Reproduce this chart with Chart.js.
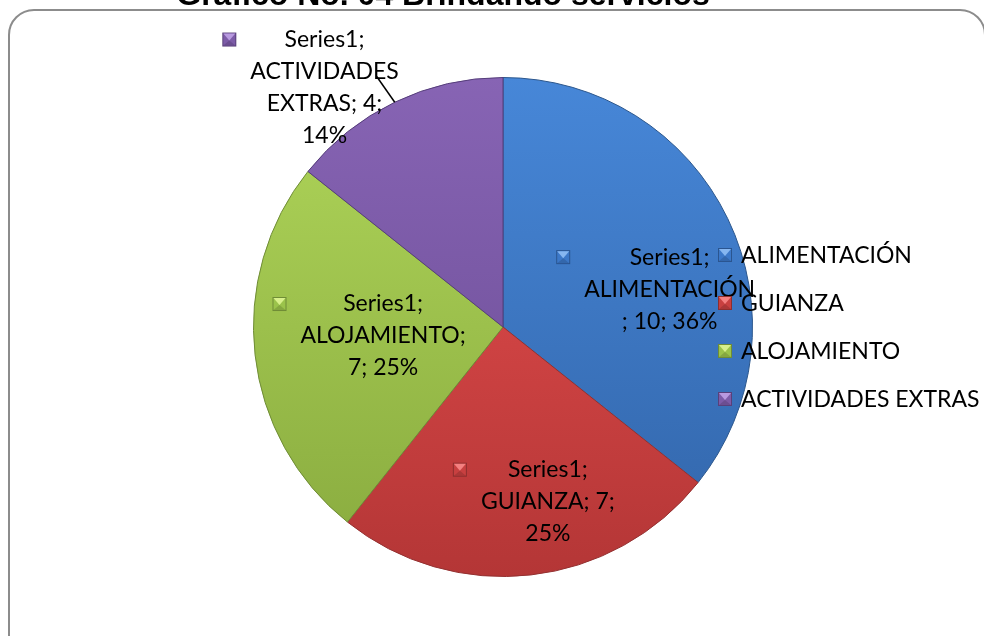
<!DOCTYPE html>
<html><head><meta charset="utf-8">
<script src="https://cdn.jsdelivr.net/npm/chart.js@4.4.1/dist/chart.umd.min.js"></script>
<style>
html,body{margin:0;padding:0;background:#fff;overflow:hidden}
#wrap{position:relative;width:984px;height:636px;overflow:hidden}
#frame{position:absolute;left:8px;top:9px;width:978px;height:700px;border:2px solid #8c8c8c;border-radius:26px;box-sizing:border-box}
canvas{position:absolute;left:0;top:0}
</style></head><body>
<div id="wrap"><div id="frame"></div><canvas id="c" width="984" height="636"></canvas></div>
<script>
const titleText = 'Gráfico No. 04 Brindando servicios';
const seriesName = 'Series1';
const categories = ['ALIMENTACIÓN', 'GUIANZA', 'ALOJAMIENTO', 'ACTIVIDADES EXTRAS'];
const values = [10, 7, 7, 4];

const total = values.reduce((a, b) => a + b, 0);
const pct = values.map(v => Math.round(v / total * 100) + '%');
// wrapped data-label lines, as in the reference
const labelLines = [
  [seriesName + ';', categories[0], '; ' + values[0] + '; ' + pct[0]],
  [seriesName + ';', categories[1] + '; ' + values[1] + ';', pct[1]],
  [seriesName + ';', categories[2] + ';', values[2] + '; ' + pct[2]],
  [seriesName + ';', categories[3].split(' ')[0], categories[3].split(' ')[1] + '; ' + values[3] + ';', pct[3]]
];

const palette = [
  {top:'#4787d8', bottom:'#3164a8', base:'#3c78c8', light:'#86b6f0', dark:'#2a5590', line:'#2b568c'},
  {top:'#ea5050', bottom:'#b43636', base:'#c84040', light:'#f48080', dark:'#8e2e2e', line:'#933030'},
  {top:'#b0d65a', bottom:'#88aa3e', base:'#9bc34b', light:'#d8f08c', dark:'#6f8c36', line:'#6f8c36'},
  {top:'#8764b4', bottom:'#684a92', base:'#7d5ca8', light:'#b89ae0', dark:'#59407a', line:'#553d7a'}
];
// label block placement: [radius fraction, angle in degrees]
const labelPlacement = [[0.685, -12.8], [0.723, 75.6], [0.482, 175.7], [1.197, -126.7]];
const FONT = '23px Lato, "Open Sans", sans-serif';
const LH = 32;

function marker(ctx, cx, cy, s, c) {
  const x = cx - s / 2, y = cy - s / 2;
  ctx.fillStyle = c.dark; ctx.fillRect(x, y, s, s);
  ctx.fillStyle = c.base; ctx.fillRect(x + 1, y + 1, s - 2, s - 2);
  ctx.fillStyle = c.light;
  ctx.beginPath(); ctx.moveTo(x + 1, y + 1); ctx.lineTo(x + s - 1, y + 1); ctx.lineTo(cx, cy + 1); ctx.closePath(); ctx.fill();
  ctx.fillStyle = c.dark;
  ctx.globalAlpha = 0.5;
  ctx.beginPath(); ctx.moveTo(x + 1, y + s - 1); ctx.lineTo(x + s - 1, y + s - 1); ctx.lineTo(cx, cy + 1); ctx.closePath(); ctx.fill();
  ctx.globalAlpha = 1;
}

const overlay = {
  id: 'overlay',
  afterDatasetsDraw(chart) {
    const ctx = chart.ctx;
    const meta = chart.getDatasetMeta(0);
    ctx.save();
    ctx.font = FONT;
    ctx.textAlign = 'center';
    ctx.textBaseline = 'middle';
    meta.data.forEach((arc, i) => {
      const p = arc.getProps(['x', 'y', 'outerRadius', 'startAngle', 'endAngle'], true);
      const [rf, ad] = labelPlacement[i];
      const a = ad * Math.PI / 180;
      const cx = p.x + Math.cos(a) * rf * p.outerRadius;
      const cy = p.y + Math.sin(a) * rf * p.outerRadius;
      const lines = labelLines[i];
      const top = cy - (lines.length - 1) * LH / 2;
      const maxW = Math.max(...lines.map(l => ctx.measureText(l).width));
      if (rf > 1) {
        const mid = (p.startAngle + p.endAngle) / 2;
        ctx.strokeStyle = '#000'; ctx.lineWidth = 1.5;
        ctx.beginPath();
        ctx.moveTo(cx + maxW / 2 - 22, top + LH + 5);
        ctx.lineTo(p.x + Math.cos(mid) * p.outerRadius, p.y + Math.sin(mid) * p.outerRadius);
        ctx.stroke();
      }
      ctx.fillStyle = '#000';
      lines.forEach((l, k) => ctx.fillText(l, cx, top + k * LH));
      marker(ctx, cx - maxW / 2 - 21, top, 14, palette[i]);
    });
    // legend
    ctx.textAlign = 'left';
    categories.forEach((c, i) => {
      const y = 255 + i * 48;
      marker(ctx, 725, y, 14, palette[i]);
      ctx.fillStyle = '#000';
      ctx.fillText(c, 741, y + 1);
    });
    // title (clipped at top of the picture, as in the reference)
    ctx.textAlign = 'center';
    ctx.textBaseline = 'alphabetic';
    ctx.font = 'bold 32px "Liberation Sans", Arial, sans-serif';
    ctx.fillStyle = '#000';
    ctx.fillText(titleText, 443, 5);
    ctx.restore();
  }
};

new Chart(document.getElementById('c'), {
  type: 'pie',
  data: {
    labels: categories,
    datasets: [{
      label: seriesName,
      data: values,
      backgroundColor: (context) => {
        const chart = context.chart;
        const area = chart.chartArea;
        const c = palette[context.dataIndex];
        if (!area) return c.base;
        const g = chart.ctx.createLinearGradient(0, area.top, 0, area.bottom);
        g.addColorStop(0, c.top);
        g.addColorStop(1, c.bottom);
        return g;
      },
      borderColor: palette.map(c => c.line),
      borderWidth: 1
    }]
  },
  options: {
    responsive: false,
    animation: false,
    layout: { padding: { left: 253, right: 231, top: 77, bottom: 59 } },
    plugins: { legend: { display: false }, tooltip: { enabled: false }, title: { display: false } }
  },
  plugins: [overlay]
});
</script>
</body></html>
